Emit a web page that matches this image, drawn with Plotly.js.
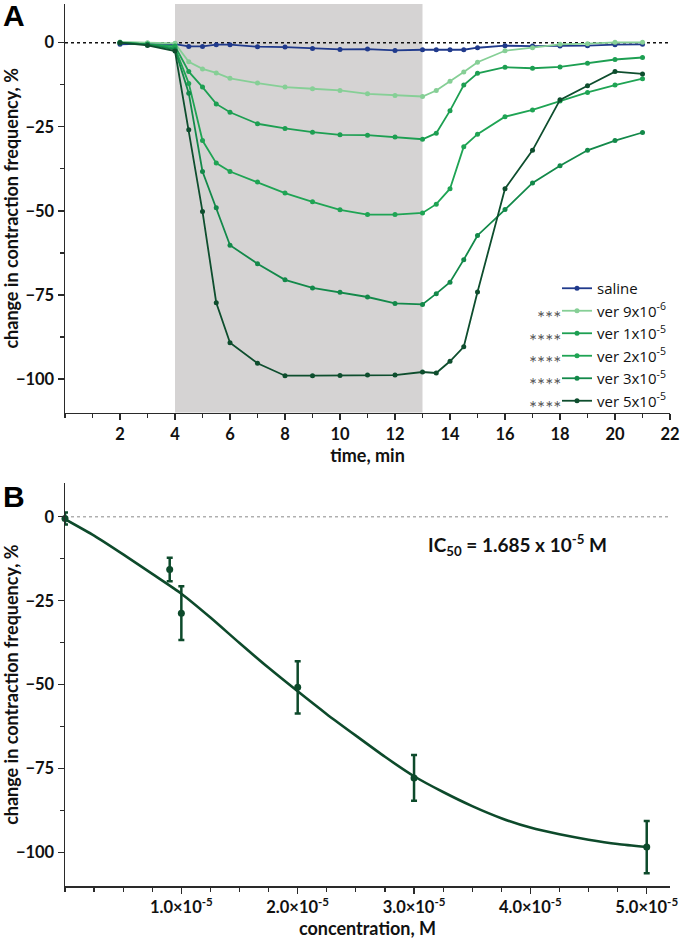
<!DOCTYPE html>
<html>
<head>
<meta charset="utf-8">
<script src="https://cdn.plot.ly/plotly-3.0.1.min.js"></script>
<style>html,body{margin:0;padding:0;background:#fff;}#chart{width:683px;height:943px;}</style>
</head>
<body>
<div id="chart"></div>
<script>
// ---- Panel A data: time course ----
const time = [2,3,4,4.5,5,5.5,6,7,8,9,10,11,12,13,13.5,14,14.5,15,16,17,18,19,20,21];
const saline = [-0.5,-0.3,-0.4,-1.1,-1.1,-0.6,-0.6,-1.2,-1.3,-1.7,-2.0,-1.9,-2.3,-2.1,-2.1,-2.1,-2.1,-1.5,-0.9,-1.0,-1.0,-0.9,-0.6,-0.5];
const ver9e6 = [0.2,0,-0.2,-5.7,-7.8,-9.0,-10.6,-12.0,-13.2,-13.7,-14.2,-15.2,-15.7,-16.0,-14.2,-11.5,-8.7,-5.8,-2.4,-1.5,-0.5,-0.3,0.1,0.1];
const ver1e5 = [0,-0.5,-1.0,-8.6,-13.2,-18.2,-20.7,-24.1,-25.5,-26.6,-27.4,-27.5,-28.0,-28.7,-26.9,-20.2,-12.6,-9.1,-7.3,-7.6,-7.2,-6.1,-5.0,-4.4];
const ver2e5 = [0,-0.5,-1.5,-12.1,-29.1,-35.8,-38.3,-41.4,-44.7,-47.3,-49.7,-51.1,-51.1,-50.6,-48.0,-43.4,-30.9,-27.2,-22.0,-20.0,-17.3,-14.8,-12.6,-10.7];
const ver3e5 = [0,-0.5,-2.0,-15.0,-38.3,-49.1,-60.2,-65.7,-70.5,-72.9,-74.2,-75.6,-77.5,-77.8,-74.6,-71.2,-64.5,-57.3,-49.6,-41.7,-36.6,-32.0,-29.1,-26.7];
const ver5e5 = [0,-0.8,-2.5,-25.9,-50.2,-77.3,-89.2,-95.3,-99.0,-99.0,-98.9,-98.8,-98.8,-97.9,-98.2,-94.7,-90.4,-74.1,-43.4,-32.0,-17.0,-12.8,-8.6,-9.3];
const seriesNames = ['saline','ver 9x10<sup>-6</sup>','ver 1x10<sup>-5</sup>','ver 2x10<sup>-5</sup>','ver 3x10<sup>-5</sup>','ver 5x10<sup>-5</sup>'];
const seriesStars = ['','***','****','****','****','****'];
const seriesColors = ['#203a8c','#86cf96','#1d9f52','#1fa454','#13894a','#0e4e2e'];
const exposureStart = 4, exposureEnd = 13;
const timeTicks = [2,4,6,8,10,12,14,16,18,20,22];
const respTicks = [0,-25,-50,-75,-100];

// ---- Panel B data: concentration response ----
const conc = [0, 9e-6, 1e-5, 2e-5, 3e-5, 5e-5];
const meanResp = [-0.5, -15.7, -28.7, -50.8, -77.8, -98.4];
const semResp = [1.8, 3.5, 8.0, 7.8, 6.8, 7.8];
const fitConc = [0,0.25e-5,0.5e-5,0.75e-5,1e-5,1.25e-5,1.5e-5,1.75e-5,2e-5,2.25e-5,2.5e-5,2.75e-5,3e-5,3.25e-5,3.5e-5,3.75e-5,4e-5,4.25e-5,4.5e-5,4.75e-5,5e-5];
const fitResp = [-0.7,-5.6,-11.2,-17.0,-22.9,-30.0,-37.6,-45.0,-52.0,-58.8,-65.2,-71.5,-77.3,-82.0,-86.2,-89.8,-92.6,-94.6,-96.2,-97.5,-98.4];
const concTicks = [1e-5,2e-5,3e-5,4e-5,5e-5];
const concTickText = ['1.0×10<sup>-5</sup>','2.0×10<sup>-5</sup>','3.0×10<sup>-5</sup>','4.0×10<sup>-5</sup>','5.0×10<sup>-5</sup>'];
const ic50Text = 'IC<sub>50</sub> = 1.685 x 10<sup>-5</sup> M';

const seriesData = [saline, ver9e6, ver1e5, ver2e5, ver3e5, ver5e5];
const FONT = 'Lato, "Open Sans", sans-serif';
const bottomGreen = '#0d4a2b';

const traces = seriesData.map((ys, i) => ({
  type: 'scatter', mode: 'lines+markers', x: time, y: ys, name: seriesNames[i],
  xaxis: 'x', yaxis: 'y',
  line: {color: seriesColors[i], width: 1.8},
  marker: {color: seriesColors[i], size: 5}
}));

traces.push({
  type: 'scatter', mode: 'lines', x: fitConc, y: fitResp, xaxis: 'x2', yaxis: 'y2',
  line: {color: bottomGreen, width: 2.6, shape: 'spline', smoothing: 0.6}, showlegend: false, hoverinfo: 'skip'
});
traces.push({
  type: 'scatter', mode: 'markers', x: conc, y: meanResp, xaxis: 'x2', yaxis: 'y2',
  marker: {color: bottomGreen, size: 7},
  error_y: {type: 'data', array: semResp, visible: true, color: bottomGreen, thickness: 2.5, width: 3},
  showlegend: false, cliponaxis: false
});

const tickFont = () => ({family: FONT, size: 16.5, color: '#111', weight: 700});
const titleFont = () => ({family: FONT, size: 18, color: '#111', weight: 700});
const axisCommon = () => ({
  showline: true, linecolor: '#2a2a2a', linewidth: 1.5, mirror: false,
  ticks: 'outside', ticklen: 6, tickwidth: 1.3, tickcolor: '#2a2a2a',
  showgrid: false, zeroline: false, tickfont: tickFont()
});
const minorTicks = (d) => ({dtick: d, tick0: 0, ticks: 'outside', ticklen: 4, tickcolor: '#2a2a2a', tickwidth: 1.2});

const topDomain = [0.5366, 1.0];
const botDomain = [0.0, 0.4566];

const rowTop = 291, rowGap = 22.5;
const panelFont = {family: 'Liberation Sans, Arial, sans-serif', size: 30, color: '#000', weight: 700};
const annotations = [
  {text: 'A', xref: 'paper', yref: 'paper', x: -0.106, y: 1.008, xanchor: 'left', yanchor: 'top', showarrow: false, font: panelFont},
  {text: 'B', xref: 'paper', yref: 'paper', x: -0.106, y: (886 - 478) / 882, xanchor: 'left', yanchor: 'top', showarrow: false, font: panelFont},
  {text: ic50Text, xref: 'x2', yref: 'y2', x: 3.89e-5, y: -8.5, xanchor: 'center', yanchor: 'middle', showarrow: false,
   font: {family: FONT, size: 19, color: '#111', weight: 700}}
];
// significance stars to the left of legend entries
seriesStars.forEach((s, i) => {
  if (!s) return;
  annotations.push({text: s, xref: 'paper', yref: 'paper', x: (563 - 65) / 605, y: (886 - (rowTop + rowGap * i)) / 882,
    xanchor: 'right', yanchor: 'middle', yshift: -4, showarrow: false, font: {family: FONT, size: 19, color: '#555'}});
});

const layout = {
  width: 683, height: 943,
  margin: {l: 65, r: 13, t: 4, b: 57},
  paper_bgcolor: '#fff', plot_bgcolor: 'rgba(0,0,0,0)',
  font: {family: FONT, color: '#111'},
  showlegend: true,
  legend: {x: (557 - 65) / 605, y: (886 - 272) / 882, xanchor: 'left', yanchor: 'top', bgcolor: 'rgba(0,0,0,0)',
    font: {family: '"Open Sans", sans-serif', size: 15, color: '#111'}, tracegroupgap: 0, itemclick: false},
  xaxis: Object.assign(axisCommon(), {domain: [0, 1], anchor: 'y', range: [0, 22], tickvals: timeTicks,
    minor: minorTicks(1), title: {text: 'time, min', font: titleFont(), standoff: 4}}),
  yaxis: Object.assign(axisCommon(), {domain: topDomain, anchor: 'x', range: [-110, 11.5], tickvals: respTicks,
    minor: minorTicks(12.5), title: {text: 'change in contraction frequency, %', font: titleFont(), standoff: 0}}),
  xaxis2: Object.assign(axisCommon(), {domain: [0, 1], anchor: 'y2', range: [0, 5.2e-5], tickvals: concTicks, ticktext: concTickText,
    minor: minorTicks(2.5e-6), title: {text: 'concentration, M', font: titleFont(), standoff: 6}}),
  yaxis2: Object.assign(axisCommon(), {domain: botDomain, anchor: 'x2', range: [-110, 10], tickvals: respTicks,
    minor: minorTicks(12.5), title: {text: 'change in contraction frequency, %', font: titleFont(), standoff: 0}}),
  shapes: [
    {type: 'rect', xref: 'x', yref: 'y', x0: exposureStart, x1: exposureEnd, y0: -110, y1: 11.5,
     fillcolor: '#d5d3d3', line: {width: 0}, layer: 'below'},
    {type: 'line', xref: 'x', yref: 'y', x0: 0, x1: 22, y0: 0, y1: 0, line: {color: '#111', width: 1.6, dash: 'dot'}, layer: 'below'},
    {type: 'line', xref: 'x2', yref: 'y2', x0: 0, x1: 5.2e-5, y0: 0, y1: 0, line: {color: '#888', width: 1, dash: 'dot'}, layer: 'below'}
  ],
  annotations: annotations
};

Plotly.newPlot('chart', traces, layout, {staticPlot: true, displayModeBar: false});
</script>
</body>
</html>
